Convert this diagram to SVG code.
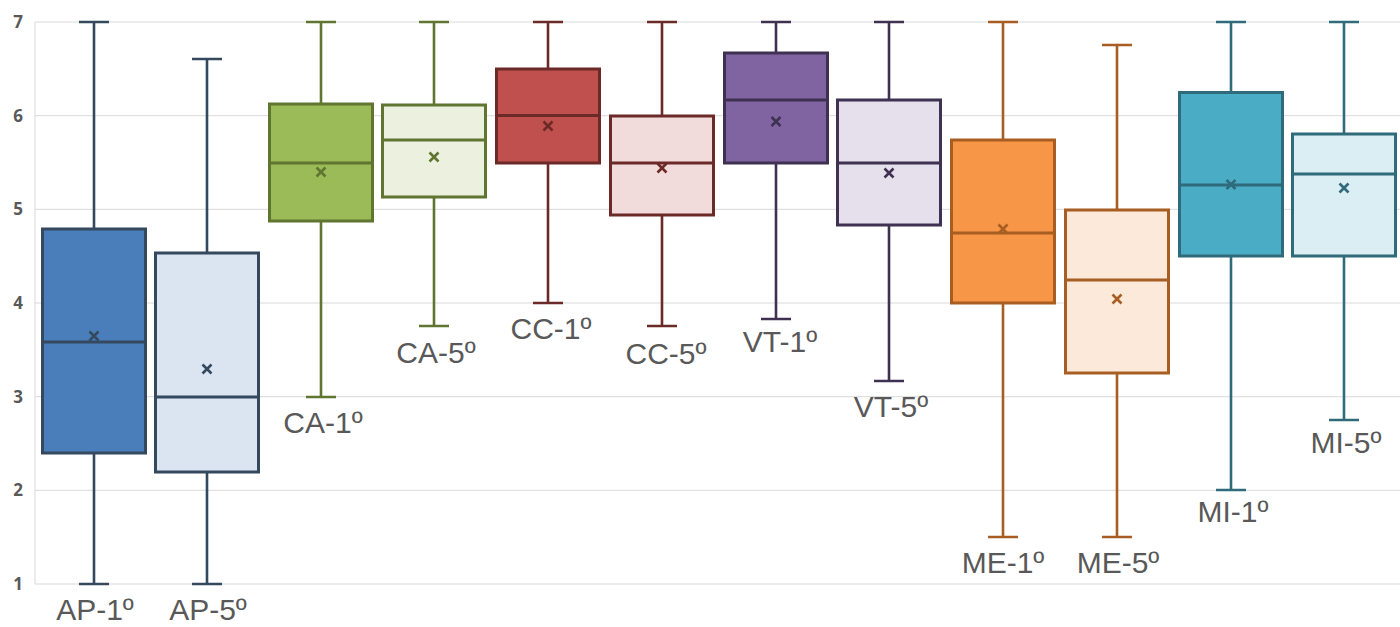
<svg xmlns="http://www.w3.org/2000/svg" width="1400" height="627" viewBox="0 0 1400 627">
<style>
.grid{stroke:#d9d9d9;stroke-width:1}
.tick{font-family:"Open Sans","Liberation Sans",sans-serif;font-weight:bold;font-size:17px;fill:#595959;text-anchor:middle}
.lbl{font-family:"Liberation Sans","DejaVu Sans",sans-serif;font-size:30px;fill:#595959;text-anchor:middle}
.w{fill:none;stroke-width:2.6}
.b{stroke-width:3}
.m{fill:none;stroke-width:2.6}
.ap{stroke:#34495e}
.ca{stroke:#5f7530}
.cc{stroke:#6b2a28}
.vt{stroke:#3f3151}
.me{stroke:#a85e22}
.mi{stroke:#2f6b7a}
</style>
<rect width="1400" height="627" fill="#ffffff"/>
<g id="axis">
<line class="grid" x1="35" y1="22" x2="1400" y2="22"/>
<line class="grid" x1="35" y1="115.7" x2="1400" y2="115.7"/>
<line class="grid" x1="35" y1="209.3" x2="1400" y2="209.3"/>
<line class="grid" x1="35" y1="303" x2="1400" y2="303"/>
<line class="grid" x1="35" y1="396.7" x2="1400" y2="396.7"/>
<line class="grid" x1="35" y1="490.3" x2="1400" y2="490.3"/>
<line class="grid" x1="35" y1="584" x2="1400" y2="584"/>
<line class="grid" x1="35" y1="22" x2="35" y2="584"/>
<text class="tick" x="18" y="28">7</text>
<text class="tick" x="18" y="121.7">6</text>
<text class="tick" x="18" y="215.3">5</text>
<text class="tick" x="18" y="309">4</text>
<text class="tick" x="18" y="402.7">3</text>
<text class="tick" x="18" y="496.3">2</text>
<text class="tick" x="18" y="590">1</text>
</g>
<g id="connectors">
<path class="w ap" d="M94 22V229M94 453V584M79 22H109M79 584H109"/>
<path class="w ap" d="M207 59V253M207 472V584M192 59H222M192 584H222"/>
<path class="w ca" d="M321 22V104M321 221V397M306 22H336M306 397H336"/>
<path class="w ca" d="M434 22V105M434 197V326M419 22H449M419 326H449"/>
<path class="w cc" d="M548 22V69M548 163V303M533 22H563M533 303H563"/>
<path class="w cc" d="M662 22V116M662 215V326M647 22H677M647 326H677"/>
<path class="w vt" d="M776 22V53M776 163V319M761 22H791M761 319H791"/>
<path class="w vt" d="M889 22V100M889 225V381M874 22H904M874 381H904"/>
<path class="w me" d="M1003 22V140M1003 303V537M988 22H1018M988 537H1018"/>
<path class="w me" d="M1117 45V210M1117 373V537M1102 45H1132M1102 537H1132"/>
<path class="w mi" d="M1231 22V92.5M1231 256V490M1216 22H1246M1216 490H1246"/>
<path class="w mi" d="M1344 22V134M1344 256V420M1329 22H1359M1329 420H1359"/>
</g>
<g id="AP-1">
<rect class="b ap" x="42.5" y="229" width="103" height="224" fill="#4a7ebb"/>
<line class="b ap" x1="42.5" y1="342" x2="145.5" y2="342"/>
<path class="m ap" d="M89.5 331.5l9 9M98.5 331.5l-9 9"/>
<text class="lbl" x="95" y="620">AP-1º</text>
</g>
<g id="AP-5">
<rect class="b ap" x="155.5" y="253" width="103" height="219" fill="#dbe5f1"/>
<line class="b ap" x1="155.5" y1="397" x2="258.5" y2="397"/>
<path class="m ap" d="M202.5 364.5l9 9M211.5 364.5l-9 9"/>
<text class="lbl" x="208" y="620">AP-5º</text>
</g>
<g id="CA-1">
<rect class="b ca" x="269.5" y="104" width="103" height="117" fill="#9bbb59"/>
<line class="b ca" x1="269.5" y1="163" x2="372.5" y2="163"/>
<path class="m ca" d="M316.5 167.5l9 9M325.5 167.5l-9 9"/>
<text class="lbl" x="323" y="433">CA-1º</text>
</g>
<g id="CA-5">
<rect class="b ca" x="382.5" y="105" width="103" height="92" fill="#ebf1de"/>
<line class="b ca" x1="382.5" y1="140" x2="485.5" y2="140"/>
<path class="m ca" d="M429.5 152.5l9 9M438.5 152.5l-9 9"/>
<text class="lbl" x="436" y="363">CA-5º</text>
</g>
<g id="CC-1">
<rect class="b cc" x="496.5" y="69" width="103" height="94" fill="#c0504d"/>
<line class="b cc" x1="496.5" y1="115.5" x2="599.5" y2="115.5"/>
<path class="m cc" d="M543.5 121.5l9 9M552.5 121.5l-9 9"/>
<text class="lbl" x="551" y="339">CC-1º</text>
</g>
<g id="CC-5">
<rect class="b cc" x="610.5" y="116" width="103" height="99" fill="#f2dcdb"/>
<line class="b cc" x1="610.5" y1="163" x2="713.5" y2="163"/>
<path class="m cc" d="M657.5 163.5l9 9M666.5 163.5l-9 9"/>
<text class="lbl" x="666" y="364">CC-5º</text>
</g>
<g id="VT-1">
<rect class="b vt" x="724.5" y="53" width="103" height="110" fill="#8064a2"/>
<line class="b vt" x1="724.5" y1="100" x2="827.5" y2="100"/>
<path class="m vt" d="M771.5 117l9 9M780.5 117l-9 9"/>
<text class="lbl" x="780" y="352">VT-1º</text>
</g>
<g id="VT-5">
<rect class="b vt" x="837.5" y="100" width="103" height="125" fill="#e5e0ec"/>
<line class="b vt" x1="837.5" y1="163" x2="940.5" y2="163"/>
<path class="m vt" d="M884.5 168.5l9 9M893.5 168.5l-9 9"/>
<text class="lbl" x="891" y="417">VT-5º</text>
</g>
<g id="ME-1">
<rect class="b me" x="951.5" y="140" width="103" height="163" fill="#f79646"/>
<line class="b me" x1="951.5" y1="233" x2="1054.5" y2="233"/>
<path class="m me" d="M998.5 224.5l9 9M1007.5 224.5l-9 9"/>
<text class="lbl" x="1003" y="573">ME-1º</text>
</g>
<g id="ME-5">
<rect class="b me" x="1065.5" y="210" width="103" height="163" fill="#fde9d9"/>
<line class="b me" x1="1065.5" y1="280" x2="1168.5" y2="280"/>
<path class="m me" d="M1112.5 294.5l9 9M1121.5 294.5l-9 9"/>
<text class="lbl" x="1118" y="573">ME-5º</text>
</g>
<g id="MI-1">
<rect class="b mi" x="1179.5" y="92.5" width="103" height="163.5" fill="#4bacc6"/>
<line class="b mi" x1="1179.5" y1="185" x2="1282.5" y2="185"/>
<path class="m mi" d="M1226.5 180l9 9M1235.5 180l-9 9"/>
<text class="lbl" x="1233" y="522">MI-1º</text>
</g>
<g id="MI-5">
<rect class="b mi" x="1292.5" y="134" width="103" height="122" fill="#daeef3"/>
<line class="b mi" x1="1292.5" y1="174" x2="1395.5" y2="174"/>
<path class="m mi" d="M1339.5 183.5l9 9M1348.5 183.5l-9 9"/>
<text class="lbl" x="1346" y="453">MI-5º</text>
</g>
</svg>
